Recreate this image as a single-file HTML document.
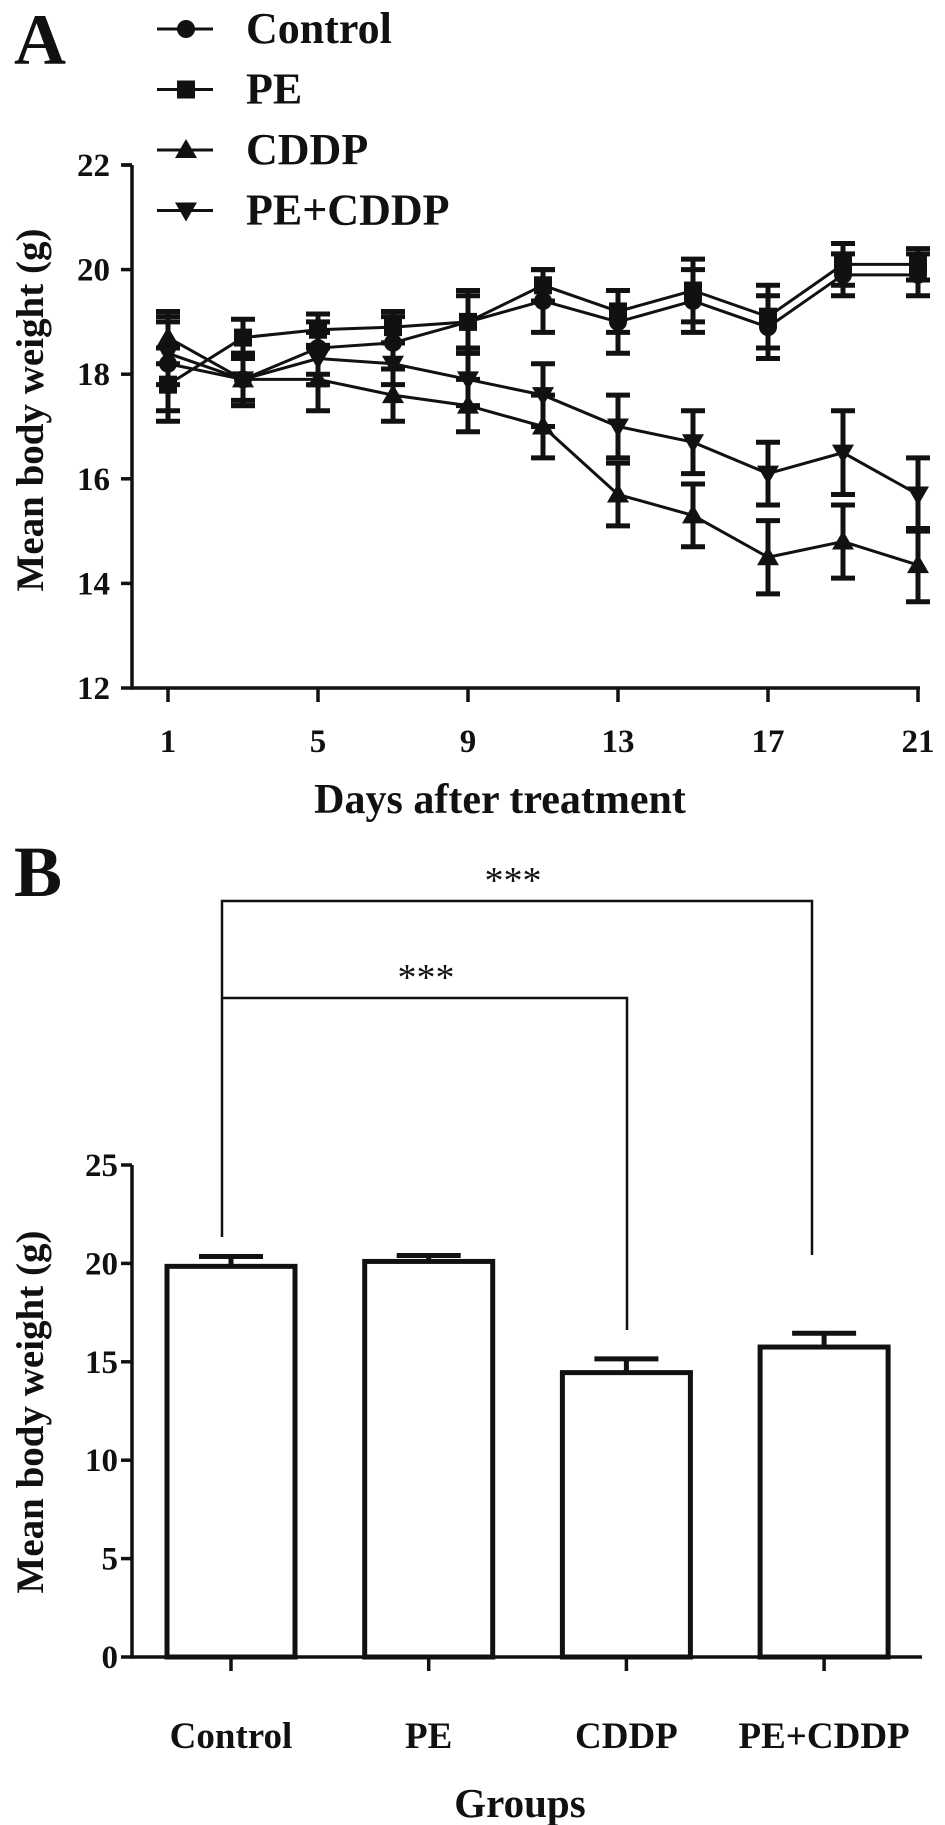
<!DOCTYPE html>
<html><head><meta charset="utf-8"><style>
html,body{margin:0;padding:0;background:#fff;}
svg{display:block;font-family:"Liberation Serif",serif;font-weight:bold;}
</style></head><body>
<svg id="fig" width="945" height="1825" viewBox="0 0 945 1825" xmlns="http://www.w3.org/2000/svg"></svg>
<script>
// ---- Panel A data ----
const days = [1,3,5,7,9,11,13,15,17,19,21];
const controlMean = [18.2,17.9,18.5,18.6,19.0,19.4,19.0,19.4,18.9,19.9,19.9];
const controlErr  = [0.9,0.5,0.5,0.5,0.6,0.6,0.6,0.6,0.6,0.4,0.4];
const peMean = [17.8,18.7,18.85,18.9,19.0,19.7,19.2,19.6,19.1,20.1,20.1];
const peErr  = [0.7,0.35,0.3,0.3,0.5,0.3,0.4,0.6,0.6,0.4,0.3];
const cddpMean = [18.7,17.9,17.9,17.6,17.4,17.0,15.7,15.3,14.5,14.8,14.35];
const cddpErr  = [0.5,0.5,0.6,0.5,0.5,0.6,0.6,0.6,0.7,0.7,0.7];
const pecMean = [18.4,17.9,18.3,18.2,17.9,17.6,17.0,16.7,16.1,16.5,15.7];
const pecErr  = [0.6,0.4,0.5,0.4,0.5,0.6,0.6,0.6,0.6,0.8,0.7];
const aYTicks = [12,14,16,18,20,22];
const aXTicks = [1,5,9,13,17,21];
// ---- Panel B data ----
const groups = ["Control","PE","CDDP","PE+CDDP"];
const groupMean = [19.85,20.1,14.45,15.75];
const groupErr = [0.5,0.3,0.7,0.7];
const bYTicks = [0,5,10,15,20,25];

const NS="http://www.w3.org/2000/svg";
const svg=document.getElementById('fig');
function el(tag,attrs,parent){const e=document.createElementNS(NS,tag);for(const k in attrs)e.setAttribute(k,attrs[k]);(parent||svg).appendChild(e);return e;}
function txt(s,x,y,size,anchor,parent){const t=el('text',{x:x,y:y,'font-size':size,'text-anchor':anchor||'middle',fill:'#111'},parent);t.textContent=s;return t;}

// Panel A scales
const ax0=132, ay0=688, ayTop=165;
const xA=d=>168+(d-1)*(918-168)/20;
const yA=v=>ay0-(v-12)*(ay0-ayTop)/10;

const gA=el('g',{});


let t=txt('A',14,64,72,'start',gA);

let a=el('path',{d:`M${ax0} ${yA(22)} H${ax0-10} M${ax0} ${yA(22)} V${ay0} H920`,stroke:'#111','stroke-width':3.5,fill:'none'},gA);

aYTicks.forEach(v=>{
  el('line',{x1:ax0-11,x2:ax0,y1:yA(v),y2:yA(v),stroke:'#111','stroke-width':3.5},gA);
  const l=txt(String(v),ax0-22,yA(v)+11,33,'end',gA);
  
});
aXTicks.forEach(d=>{
  el('line',{x1:xA(d),x2:xA(d),y1:ay0,y2:ay0+14,stroke:'#111','stroke-width':3.5},gA);
  const l=txt(String(d),xA(d),752,33,'middle',gA);
  
});
t=txt('Days after treatment',500,813,42,'middle',gA);

t=txt('Mean body weight (g)',0,0,39,'middle',gA);
t.setAttribute('transform','translate(43,410) rotate(-90)');


function marker(type,x,y,parent){
  if(type==='circle') return el('circle',{cx:x,cy:y,r:9,fill:'#111'},parent);
  if(type==='square') return el('rect',{x:x-9,y:y-9,width:18,height:18,fill:'#111'},parent);
  if(type==='up') return el('path',{d:`M${x} ${y-11} L${x+11} ${y+8} L${x-11} ${y+8}Z`,fill:'#111'},parent);
  return el('path',{d:`M${x} ${y+11} L${x+11} ${y-8} L${x-11} ${y-8}Z`,fill:'#111'},parent);
}
const series=[
  {name:'control',m:controlMean,e:controlErr,mk:'circle'},
  {name:'pe',m:peMean,e:peErr,mk:'square'},
  {name:'cddp',m:cddpMean,e:cddpErr,mk:'up'},
  {name:'pe-cddp',m:pecMean,e:pecErr,mk:'down'}];
series.forEach(s=>{
  const g=el('g',{},gA);
  
  
  el('polyline',{points:days.map((d,i)=>xA(d)+','+yA(s.m[i])).join(' '),fill:'none',stroke:'#111','stroke-width':3},g);
  days.forEach((d,i)=>{
    const x=xA(d),y1=yA(s.m[i]+s.e[i]),y2=yA(s.m[i]-s.e[i]);
    el('path',{d:`M${x} ${y1} V${y2} M${x-12} ${y1} H${x+12} M${x-12} ${y2} H${x+12}`,stroke:'#111','stroke-width':5,fill:'none'},g);
    const m=marker(s.mk,x,yA(s.m[i]),g);
    
    
  });
});
const legNames=['Control','PE','CDDP','PE+CDDP'];
legNames.forEach((n,i)=>{
  const y=29+i*60.5;
  const g=el('g',{},gA);
  
  
  el('line',{x1:157,x2:213,y1:y,y2:y,stroke:'#111','stroke-width':3},g);
  marker(series[i].mk,186,y,g);
  txt(n,246,y+14,44,'start',g);
});

// Panel B
const gB=el('g',{});


const by0=1657, byTop=1165;
const yB=v=>by0-v*(by0-byTop)/25;
const xB=i=>231+i*197.7;
const bw=128;
t=txt('B',14,896,72,'start',gB);

a=el('path',{d:`M${ax0} ${yB(25)} V${by0} H922`,stroke:'#111','stroke-width':3.5,fill:'none'},gB);

bYTicks.forEach(v=>{
  el('line',{x1:ax0-11,x2:ax0,y1:yB(v),y2:yB(v),stroke:'#111','stroke-width':3.5},gB);
  const l=txt(String(v),ax0-14,yB(v)+11,33,'end',gB);
  
});
groups.forEach((gname,i)=>{
  const x=xB(i);
  const g=el('g',{},gB);
  
  
  el('rect',{x:x-bw/2,y:yB(groupMean[i]),width:bw,height:by0-yB(groupMean[i]),fill:'#fff',stroke:'#111','stroke-width':5},g);
  const ye=yB(groupMean[i]+groupErr[i]);
  el('path',{d:`M${x} ${yB(groupMean[i])} V${ye} M${x-32} ${ye} H${x+32}`,stroke:'#111','stroke-width':5,fill:'none'},g);
  el('line',{x1:x,x2:x,y1:by0,y2:by0+14,stroke:'#111','stroke-width':3.5},g);
  const l=txt(gname,x,1748,37,'middle',gB);
  
});
t=txt('Groups',520,1817,41,'middle',gB);

t=txt('Mean body weight (g)',0,0,39,'middle',gB);
t.setAttribute('transform','translate(43,1412) rotate(-90)');

let br=el('path',{d:`M222 1237 V901 H812 V1255`,stroke:'#111','stroke-width':2.5,fill:'none'},gB);

br=el('path',{d:`M222 998 H627 V1330`,stroke:'#111','stroke-width':2.5,fill:'none'},gB);

t=txt('***',513,893,38,'middle',gB);
t.setAttribute('font-weight','normal');

t=txt('***',426,990,38,'middle',gB);
t.setAttribute('font-weight','normal');

</script>
</body></html>
